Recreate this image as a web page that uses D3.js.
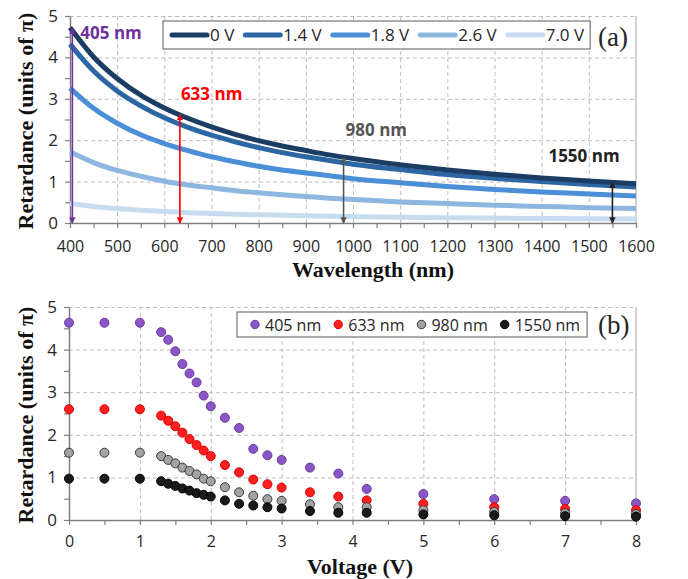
<!DOCTYPE html>
<html>
<head>
<meta charset="utf-8">
<script src="https://cdn.jsdelivr.net/npm/d3@7"></script>
<style>
  body { margin: 0; background: #fff; }
  svg { display: block; }
</style>
</head>
<body>
<div id="chart"></div>
<script>
// panel (a): retardance vs wavelength, one curve per voltage
var wavelengths = [400, 450, 500, 550, 600, 650, 700, 750, 800, 850, 900, 950, 1000, 1100, 1200, 1300, 1400, 1500, 1600];
var ret0V  = [4.72, 4.01, 3.49, 3.09, 2.78, 2.53, 2.32, 2.14, 1.99, 1.86, 1.75, 1.645, 1.556, 1.405, 1.281, 1.177, 1.089, 1.014, 0.949];
var ret14V = [4.32, 3.67, 3.19, 2.83, 2.54, 2.31, 2.12, 1.96, 1.82, 1.70, 1.60, 1.51, 1.42, 1.29, 1.17, 1.08, 1.00, 0.93, 0.87];
var ret18V = [3.26, 2.77, 2.41, 2.13, 1.92, 1.75, 1.60, 1.48, 1.37, 1.28, 1.21, 1.14, 1.07, 0.97, 0.88, 0.81, 0.75, 0.70, 0.65];
var ret26V = [1.72, 1.46, 1.27, 1.13, 1.01, 0.92, 0.85, 0.78, 0.73, 0.68, 0.64, 0.60, 0.57, 0.51, 0.47, 0.43, 0.40, 0.37, 0.35];
var ret70V = [0.47, 0.40, 0.35, 0.31, 0.28, 0.25, 0.23, 0.21, 0.20, 0.19, 0.175, 0.165, 0.156, 0.14, 0.128, 0.118, 0.109, 0.101, 0.095];
var voltageLabels = ["0 V", "1.4 V", "1.8 V", "2.6 V", "7.0 V"];

// marked wavelengths and the retardance at 0 V (arrow height)
var markLambda = [405, 633, 980, 1550];
var markTop    = [4.70, 2.62, 1.58, 0.98];
var markLabels = ["405 nm", "633 nm", "980 nm", "1550 nm"];

// panel (b): retardance vs voltage
var voltages = [0, 0.5, 1, 1.3, 1.4, 1.5, 1.6, 1.7, 1.8, 1.9, 2.0, 2.2, 2.4, 2.6, 2.8, 3.0, 3.4, 3.8, 4.2, 5, 6, 7, 8];
var ret405  = [4.63, 4.63, 4.63, 4.41, 4.23, 3.96, 3.66, 3.44, 3.23, 2.92, 2.67, 2.40, 2.16, 1.67, 1.52, 1.41, 1.23, 1.09, 0.73, 0.61, 0.49, 0.45, 0.39];
var ret633  = [2.60, 2.60, 2.60, 2.45, 2.33, 2.20, 2.05, 1.90, 1.76, 1.63, 1.50, 1.29, 1.12, 0.95, 0.84, 0.76, 0.65, 0.55, 0.46, 0.38, 0.30, 0.26, 0.23];
var ret980  = [1.58, 1.58, 1.58, 1.50, 1.41, 1.33, 1.23, 1.15, 1.07, 0.97, 0.91, 0.77, 0.65, 0.57, 0.49, 0.45, 0.37, 0.30, 0.30, 0.23, 0.19, 0.16, 0.14];
var ret1550 = [0.97, 0.97, 0.97, 0.91, 0.85, 0.80, 0.74, 0.69, 0.63, 0.59, 0.55, 0.46, 0.38, 0.34, 0.30, 0.27, 0.21, 0.17, 0.17, 0.13, 0.11, 0.09, 0.08];

var W = 688, H = 579;
var sansFont = "'Open Sans', sans-serif";
var serifFont = "'Liberation Serif', serif";

var svg = d3.select("#chart").append("svg")
  .attr("width", W).attr("height", H);

var defs = svg.append("defs");
function arrowMarker(id, color) {
  defs.append("marker")
    .attr("id", id)
    .attr("viewBox", "0 0 10 10")
    .attr("refX", 9).attr("refY", 5)
    .attr("markerWidth", 4).attr("markerHeight", 4)
    .attr("markerUnits", "strokeWidth")
    .attr("orient", "auto-start-reverse")
    .append("path")
    .attr("d", "M0,0L10,5L0,10z")
    .attr("fill", color);
}

// grid, border and axes for one panel
function drawFrame(g, xScale, yScale, xMajor, xMinor, yMajor, yMinor, xPad) {
  var x0 = xScale.range()[0], x1 = xScale.range()[1];
  var y0 = yScale.range()[0], y1 = yScale.range()[1];

  g.append("g")
    .attr("transform", "translate(0," + y0 + ")")
    .call(d3.axisBottom(xScale).tickValues(xMajor.slice(1, -1)).tickSize(-(y0 - y1)).tickFormat(""))
    .call(function(a) { a.select(".domain").remove(); })
    .selectAll("line").attr("stroke", "#bdbdbd").attr("stroke-dasharray", "4,3");

  g.append("g")
    .attr("transform", "translate(" + x0 + ",0)")
    .call(d3.axisLeft(yScale).tickValues(yMajor.slice(1)).tickSize(-(x1 - x0)).tickFormat(""))
    .call(function(a) { a.select(".domain").remove(); })
    .selectAll("line").attr("stroke", "#bdbdbd").attr("stroke-dasharray", "4,3");

  g.append("line")
    .attr("x1", x1).attr("x2", x1).attr("y1", y1).attr("y2", y0)
    .attr("stroke", "#b5b5b5").attr("stroke-width", 1.2);

  // minor ticks
  g.append("g")
    .attr("transform", "translate(0," + y0 + ")")
    .call(d3.axisBottom(xScale).tickValues(xMinor).tickSize(5).tickFormat("").tickSizeOuter(0))
    .call(function(a) { a.select(".domain").remove(); })
    .selectAll("line").attr("stroke", "#7f7f7f").attr("stroke-width", 1.2);
  g.append("g")
    .attr("transform", "translate(" + x0 + ",0)")
    .call(d3.axisLeft(yScale).tickValues(yMinor).tickSize(5).tickFormat("").tickSizeOuter(0))
    .call(function(a) { a.select(".domain").remove(); })
    .selectAll("line").attr("stroke", "#7f7f7f").attr("stroke-width", 1.2);

  var xa = g.append("g")
    .attr("transform", "translate(0," + y0 + ")")
    .call(d3.axisBottom(xScale).tickValues(xMajor).tickSize(5).tickSizeOuter(0).tickPadding(xPad).tickFormat(d3.format("")));
  xa.select(".domain").attr("stroke", "#7f7f7f").attr("stroke-width", 1.5);
  xa.selectAll("line").attr("stroke", "#7f7f7f").attr("stroke-width", 1.2);
  xa.selectAll("text").attr("font-family", sansFont).attr("font-size", 16).attr("fill", "#262626");

  var ya = g.append("g")
    .attr("transform", "translate(" + x0 + ",0)")
    .call(d3.axisLeft(yScale).tickValues(yMajor).tickSize(5).tickSizeOuter(0).tickPadding(7).tickFormat(d3.format("d")));
  ya.select(".domain").attr("stroke", "#7f7f7f").attr("stroke-width", 1.5);
  ya.selectAll("line").attr("stroke", "#7f7f7f").attr("stroke-width", 1.2);
  ya.selectAll("text").attr("font-family", sansFont).attr("font-size", 17).attr("fill", "#262626");
}

function yTitle(cy) {
  svg.append("text")
    .attr("transform", "translate(33," + cy + ") rotate(-90)")
    .attr("text-anchor", "middle")
    .attr("font-family", serifFont).attr("font-weight", "bold").attr("font-size", 22)
    .attr("fill", "#111")
    .text("Retardance (units of π)");
}

// ---------------- panel (a) ----------------
var xA = d3.scaleLinear().domain([400, 1600]).range([70, 636]);
var yA = d3.scaleLinear().domain([0, 5]).range([223, 16]);
var gA = svg.append("g");
drawFrame(gA, xA, yA,
  d3.range(400, 1601, 100), d3.range(450, 1600, 100),
  d3.range(0, 6, 1), d3.range(0.5, 5, 1), 13);

var curves = [ret0V, ret14V, ret18V, ret26V, ret70V];
var curveColors = ["#1c3d63", "#2c67a3", "#4a8fd7", "#8db7e0", "#c6ddf1"];
var line = d3.line()
  .x(function(d) { return xA(d[0]); })
  .y(function(d) { return yA(d[1]); })
  .curve(d3.curveMonotoneX);

for (var i = curves.length - 1; i >= 0; i--) {
  gA.append("path")
    .datum(d3.zip(wavelengths, curves[i]))
    .attr("d", line)
    .attr("fill", "none")
    .attr("stroke", curveColors[i])
    .attr("stroke-width", 5);
}

var markColors = ["#7030a0", "#ff0000", "#555555", "#222222"];
markLambda.forEach(function(l, i) {
  var id = "arr" + i;
  arrowMarker(id, markColors[i]);
  gA.append("line")
    .attr("x1", xA(l)).attr("x2", xA(l))
    .attr("y1", yA(markTop[i])).attr("y2", yA(0))
    .attr("stroke", markColors[i]).attr("stroke-width", 1.6)
    .attr("marker-start", "url(#" + id + ")")
    .attr("marker-end", "url(#" + id + ")");
});

// label offsets: pixels from the arrow, height in units of π
var labelPos = [[8, 4.45], [1, 2.97], [2, 2.1], [-64, 1.47]];
markLabels.forEach(function(t, i) {
  gA.append("text")
    .attr("x", xA(markLambda[i]) + labelPos[i][0])
    .attr("y", yA(labelPos[i][1]))
    .attr("font-family", sansFont).attr("font-weight", "bold").attr("font-size", 17)
    .attr("fill", markColors[i])
    .text(t);
});

// legend (a)
var legA = gA.append("g").attr("transform", "translate(163,21)");
var legBoxA = legA.append("rect").attr("height", 28).attr("fill", "#fff")
  .attr("stroke", "#595959").attr("stroke-width", 1);
var lx = 9, lastA = 0;
voltageLabels.forEach(function(t, i) {
  legA.append("line")
    .attr("x1", lx).attr("x2", lx + 35).attr("y1", 14).attr("y2", 14)
    .attr("stroke", curveColors[i]).attr("stroke-width", 5).attr("stroke-linecap", "round");
  var tx = legA.append("text")
    .attr("x", lx + 38).attr("y", 20)
    .attr("font-family", sansFont).attr("font-size", 17).attr("fill", "#262626")
    .text(t);
  lastA = lx + 38 + tx.node().getComputedTextLength();
  lx = lastA + 11;
});
legBoxA.attr("width", lastA + 6);

svg.append("text").attr("x", 598).attr("y", 46)
  .attr("font-family", serifFont).attr("font-size", 27).attr("fill", "#262626").text("(a)");

svg.append("text").attr("x", 373).attr("y", 277).attr("text-anchor", "middle")
  .attr("font-family", serifFont).attr("font-weight", "bold").attr("font-size", 22)
  .attr("fill", "#111").text("Wavelength (nm)");
yTitle(121);

// ---------------- panel (b) ----------------
var xB = d3.scaleLinear().domain([0, 8]).range([69, 636]);
var yB = d3.scaleLinear().domain([0, 5]).range([520, 307]);
var gB = svg.append("g");
drawFrame(gB, xB, yB,
  d3.range(0, 9, 1), d3.range(0.5, 8, 1),
  d3.range(0, 6, 1), d3.range(0.5, 5, 1), 11);

var dotSeries = [ret405, ret633, ret980, ret1550];
var dotFill = ["#8a55c6", "#ff1f1f", "#a3a3a3", "#1a1a1a"];
var dotStroke = ["#6a3c9c", "#d90000", "#3a3a3a", "#000000"];
dotSeries.forEach(function(vals, i) {
  gB.append("g").selectAll("circle")
    .data(d3.zip(voltages, vals))
    .enter().append("circle")
    .attr("cx", function(d) { return xB(d[0]); })
    .attr("cy", function(d) { return yB(d[1]); })
    .attr("r", 4.5)
    .attr("fill", dotFill[i])
    .attr("stroke", dotStroke[i]).attr("stroke-width", 1);
});

// legend (b)
var legB = gB.append("g").attr("transform", "translate(237,312)");
var legBoxB = legB.append("rect").attr("height", 25).attr("fill", "#fff")
  .attr("stroke", "#595959").attr("stroke-width", 1);
var bx = 18, lastEnd = 0;
markLabels.forEach(function(t, i) {
  legB.append("circle").attr("cx", bx).attr("cy", 12.5).attr("r", 4.2)
    .attr("fill", dotFill[i]).attr("stroke", dotStroke[i]).attr("stroke-width", 1);
  var tx = legB.append("text")
    .attr("x", bx + 10).attr("y", 18.5)
    .attr("font-family", sansFont).attr("font-size", 16).attr("fill", "#262626")
    .text(t);
  lastEnd = bx + 10 + tx.node().getComputedTextLength();
  bx = lastEnd + 17;
});
legBoxB.attr("width", lastEnd + 7);

svg.append("text").attr("x", 598).attr("y", 334)
  .attr("font-family", serifFont).attr("font-size", 27).attr("fill", "#262626").text("(b)");

svg.append("text").attr("x", 360).attr("y", 574).attr("text-anchor", "middle")
  .attr("font-family", serifFont).attr("font-weight", "bold").attr("font-size", 22)
  .attr("fill", "#111").text("Voltage (V)");
yTitle(415);
</script>
</body>
</html>
